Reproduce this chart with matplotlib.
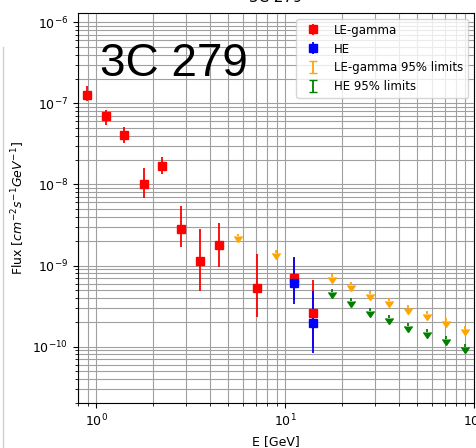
import matplotlib
matplotlib.use('Agg')
import matplotlib.pyplot as plt
from matplotlib.lines import Line2D

# energy bin centres [GeV]
energy = [0.89, 1.12, 1.41, 1.78, 2.24, 2.82, 3.55, 4.47, 5.62, 7.08,
          8.91, 11.2, 14.1, 17.8, 22.4, 28.2, 35.5, 44.7, 56.2, 70.8, 89.1]

# LE-gamma detections: bin index, flux, lower / upper edge of error bar
le_idx = [0, 1, 2, 3, 4, 5, 6, 7, 9, 11, 12]
le_flux = [1.28e-7, 7.05e-8, 4.07e-8, 1.01e-8, 1.70e-8, 2.86e-9, 1.13e-9,
           1.79e-9, 5.35e-10, 6.98e-10, 2.61e-10]
le_low = [1.08e-7, 5.46e-8, 3.21e-8, 6.8e-9, 1.34e-8, 1.67e-9, 4.9e-10,
          9.6e-10, 2.33e-10, 3.8e-10, 1.0e-10]
le_high = [1.62e-7, 8.3e-8, 5.06e-8, 1.59e-8, 2.20e-8, 5.46e-9, 2.86e-9,
           3.3e-9, 1.38e-9, 1.25e-9, 6.65e-10]

# HE detections
he_idx = [11, 12]
he_flux = [6.1e-10, 1.96e-10]
he_low = [3.4e-10, 8.4e-11]
he_high = [1.29e-9, 4.87e-10]

# 95% upper limits
le_ul_idx = [8, 10, 13, 14, 15, 16, 17, 18, 19, 20]
le_ul = [2.48e-9, 1.54e-9, 7.94e-10, 6.25e-10, 4.90e-10, 3.97e-10,
         3.29e-10, 2.72e-10, 2.25e-10, 1.81e-10]
he_ul_idx = [13, 14, 15, 16, 17, 18, 19, 20]
he_ul = [5.19e-10, 3.97e-10, 2.99e-10, 2.45e-10, 1.95e-10, 1.64e-10,
         1.34e-10, 1.09e-10]

plt.rcParams['font.size'] = 9

fig = plt.figure(figsize=(4.76, 4.48), dpi=100)
ax = fig.add_axes([0.1639, 0.0998, 0.8319, 0.8712])

def pick(idx):
    return [energy[i] for i in idx]

def errs(flux, low, high):
    return [[f - l for f, l in zip(flux, low)], [h - f for f, h in zip(flux, high)]]

ax.errorbar(pick(le_idx), le_flux, yerr=errs(le_flux, le_low, le_high),
            fmt='s', color='red', elinewidth=1.3, label='LE-gamma')
ax.errorbar(pick(he_idx), he_flux, yerr=errs(he_flux, he_low, he_high),
            fmt='s', color='blue', elinewidth=1.3, label='HE')
ax.errorbar(pick(le_ul_idx), le_ul, yerr=[0.08 * v for v in le_ul], uplims=True,
            fmt='none', color='orange', elinewidth=1.3, label='LE-gamma 95% limits')
ax.errorbar(pick(he_ul_idx), he_ul, yerr=[0.08 * v for v in he_ul], uplims=True,
            fmt='none', color='green', elinewidth=1.3, label='HE 95% limits')

ax.set_xscale('log')
ax.set_yscale('log')
ax.set_xlim(0.8, 100)
ax.set_ylim(2e-11, 1.3e-6)
ax.grid(True, which='both', color='#a0a0a0')
ax.set_xlabel('E [GeV]')
ax.set_ylabel(r'Flux [$cm^{-2}s^{-1}GeV^{-1}$]')
ax.set_title('3C 279', pad=8)
ax.text(0.055, 0.8386, '3C 279', transform=ax.transAxes, fontsize=33,
        family='Liberation Sans', va='baseline')
ax.legend(loc='upper right', fontsize=8.5)

# notebook cell border on the left
fig.add_artist(Line2D([2.5 / 476, 2.5 / 476], [0, 1 - 47 / 448],
                      transform=fig.transFigure, color='#d0d0d0', lw=1))

fig.savefig('out.png', dpi=100)
